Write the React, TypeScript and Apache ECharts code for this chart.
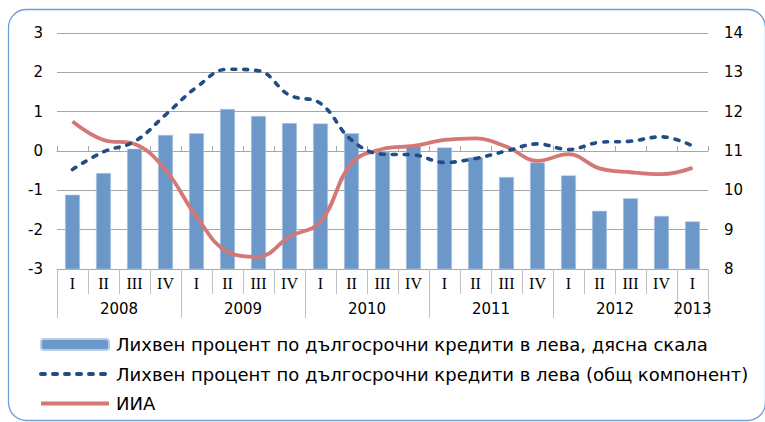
import React, { useEffect, useRef } from "react";
import * as echarts from "echarts";

const quarters = ["I","II","III","IV","I","II","III","IV","I","II","III","IV","I","II","III","IV","I","II","III","IV","I"];
const years = ["2008", "2009", "2010", "2011", "2012", "2013"];
const yearCenters = [2, 6, 10, 14, 18, 20.5];
const yearStartIndex = [0, 4, 8, 12, 16, 20];

const loanRate = [9.89, 10.44, 11.06, 11.41, 11.45, 12.07, 11.89, 11.71, 11.7, 11.45, 10.98, 11.13, 11.09, 10.84, 10.34, 10.71, 10.38, 9.48, 9.8, 9.35, 9.21];
const commonComponent = [-0.47, -0.02, 0.24, 0.92, 1.62, 2.08, 2.04, 1.42, 1.21, 0.28, -0.08, -0.1, -0.29, -0.19, 0.0, 0.18, 0.04, 0.22, 0.25, 0.36, 0.13];
const iia = [0.75, 0.28, 0.18, -0.48, -1.67, -2.56, -2.69, -2.18, -1.8, -0.31, 0.05, 0.13, 0.28, 0.32, 0.11, -0.25, -0.08, -0.44, -0.54, -0.59, -0.43];

const names = [
  "Лихвен процент по дългосрочни кредити в лева, дясна скала",
  "Лихвен процент по дългосрочни кредити в лева (общ компонент)",
  "ИИА",
];

const FONT = "DejaVu Sans";

export default function App() {
  const ref = useRef<HTMLDivElement>(null);
  useEffect(() => {
    if (!ref.current) return;
    const chart = echarts.init(ref.current, null, { renderer: "svg" });
    chart.setOption({
      animation: false,
      backgroundColor: "#fff",
      textStyle: { fontFamily: FONT },
      grid: { left: 57, right: 57, top: 33, bottom: 153, containLabel: false },
      graphic: [
        {
          type: "rect",
          shape: { x: 8.5, y: 9.5, width: 757, height: 411, r: 18 },
          style: { fill: "none", stroke: "#6e9fd8", lineWidth: 1.3 },
          z: -1,
        },
      ],
      legend: {
        orient: "vertical",
        left: 34,
        top: 329,
        itemWidth: 68,
        itemHeight: 11,
        itemGap: 8.5,
        lineStyle: { width: 4 },
        textStyle: { fontFamily: FONT, fontSize: 18, lineHeight: 21, color: "#000", padding: [0, 0, 0, 2] },
        data: [
          { name: names[0] },
          { name: names[1], itemStyle: { opacity: 0 }, lineStyle: { width: 4 } },
          { name: names[2], itemStyle: { opacity: 0 }, lineStyle: { width: 4 } },
        ],
      },
      xAxis: [
        {
          type: "category",
          data: quarters,
          position: "bottom",
          axisLine: { onZero: false, lineStyle: { color: "#a6a6a6" } },
          axisTick: { show: true, interval: 0, length: 25, lineStyle: { color: "#bfbfbf" } },
          axisLabel: { interval: 0, margin: 6, fontFamily: "Liberation Serif", fontSize: 16, color: "#000" },
          splitLine: { show: false },
        },
        {
          type: "category",
          data: quarters,
          position: "bottom",
          axisLine: { show: false, onZero: false },
          axisTick: {
            show: true,
            length: 49,
            interval: (index: number) => yearStartIndex.indexOf(index) >= 0,
            lineStyle: { color: "#bfbfbf" },
          },
          axisLabel: { show: false },
          splitLine: { show: false },
        },
        {
          type: "value",
          min: 0,
          max: 21,
          position: "bottom",
          axisLine: { show: false, onZero: false },
          splitLine: { show: false },
          axisTick: { show: false },
          axisLabel: {
            customValues: yearCenters,
            margin: 32,
            fontFamily: FONT,
            fontSize: 15,
            color: "#000",
            formatter: (v: number) => years[yearCenters.indexOf(v)] ?? "",
          },
        },
        {
          type: "category",
          data: quarters,
          axisLine: { onZero: true, onZeroAxisIndex: 0, lineStyle: { color: "#a6a6a6" } },
          axisTick: { show: true, interval: 0, length: 5, lineStyle: { color: "#a6a6a6" } },
          axisLabel: { show: false },
          splitLine: { show: false },
        },
      ],
      yAxis: [
        {
          type: "value",
          min: -3,
          max: 3,
          interval: 1,
          position: "left",
          axisLine: { show: false },
          axisTick: { show: false },
          axisLabel: { margin: 14, fontFamily: FONT, fontSize: 15, color: "#000" },
          splitLine: { lineStyle: { color: "#a6a6a6", width: 1 } },
        },
        {
          type: "value",
          min: 8,
          max: 14,
          interval: 1,
          position: "right",
          axisLine: { show: false },
          axisTick: { show: false },
          axisLabel: { margin: 16, fontFamily: FONT, fontSize: 15, color: "#000" },
          splitLine: { show: false },
        },
      ],
      series: [
        {
          name: names[0],
          type: "bar",
          xAxisIndex: 0,
          yAxisIndex: 1,
          data: loanRate,
          barWidth: 15,
          itemStyle: { color: "#6b97c9", borderColor: "#b9cde6", borderWidth: 0.6 },
          z: 2,
        },
        {
          name: names[1],
          type: "line",
          xAxisIndex: 0,
          yAxisIndex: 0,
          data: commonComponent,
          smooth: 0.4,
          symbol: "none",
          lineStyle: { color: "#214d85", width: 3.6, type: [4, 8], cap: "round" },
          itemStyle: { color: "#214d85" },
          z: 4,
        },
        {
          name: names[2],
          type: "line",
          xAxisIndex: 0,
          yAxisIndex: 0,
          data: iia,
          smooth: 0.4,
          symbol: "none",
          lineStyle: { color: "#d37777", width: 3.8 },
          itemStyle: { color: "#d37777" },
          z: 3,
        },
      ],
    });
    return () => chart.dispose();
  }, []);
  return <div ref={ref} style={{ width: 765, height: 422, position: "absolute", left: 0, top: 0 }} />;
}
